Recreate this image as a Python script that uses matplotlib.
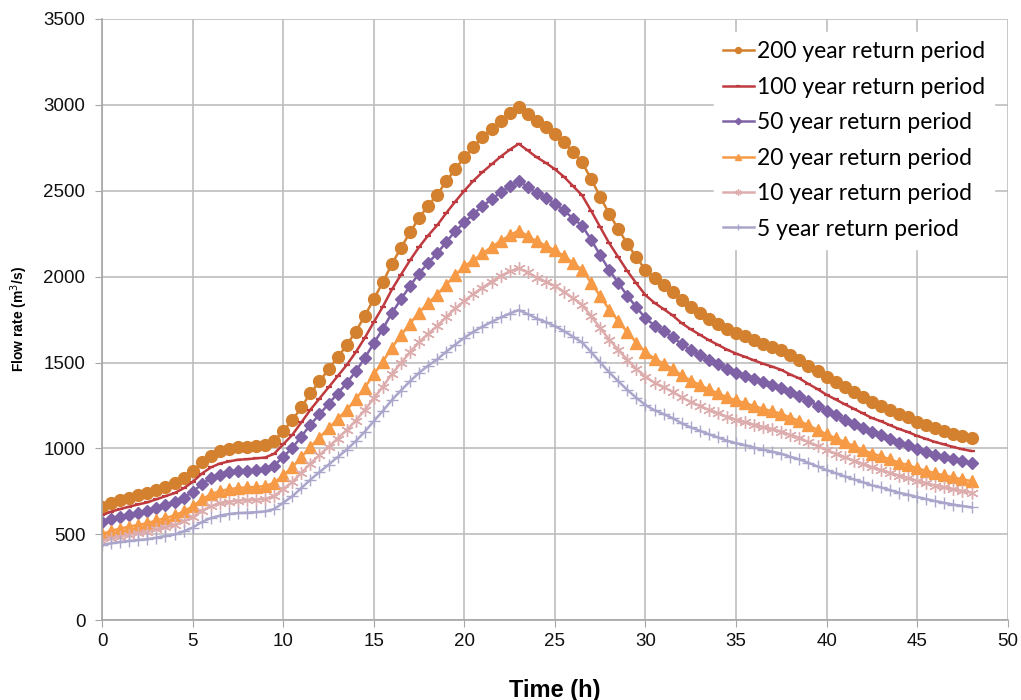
import numpy as np
import matplotlib
matplotlib.use("Agg")
import matplotlib.pyplot as plt

# Hydrographs for each return period, one value every half hour from 0 h to 48 h
time_h = np.arange(0, 48.5, 0.5)

q_200 = [658, 681, 697, 712, 726, 739, 759, 778, 797, 828,
         867, 919, 958, 983, 996, 1006, 1010, 1015, 1021, 1044,
         1103, 1163, 1240, 1320, 1390, 1460, 1530, 1600, 1680, 1770,
         1870, 1967, 2074, 2167, 2258, 2341, 2413, 2477, 2554, 2626,
         2694, 2756, 2810, 2859, 2907, 2950, 2988, 2946, 2903, 2868,
         2829, 2781, 2723, 2665, 2568, 2465, 2364, 2277, 2190, 2112,
         2039, 1990, 1951, 1912, 1863, 1824, 1791, 1756, 1727, 1697,
         1672, 1652, 1629, 1609, 1590, 1570, 1541, 1516, 1482, 1449,
         1414, 1385, 1355, 1326, 1297, 1268, 1248, 1223, 1199, 1180,
         1156, 1137, 1117, 1102, 1086, 1072, 1059]

q_100 = [611, 632, 647, 661, 674, 686, 704, 722, 740, 768,
         805, 853, 889, 912, 924, 934, 937, 942, 947, 969,
         1024, 1079, 1151, 1225, 1290, 1355, 1420, 1485, 1559, 1643,
         1735, 1825, 1925, 2011, 2095, 2172, 2239, 2299, 2370, 2437,
         2500, 2558, 2608, 2653, 2698, 2738, 2773, 2734, 2694, 2662,
         2625, 2581, 2527, 2473, 2383, 2288, 2194, 2113, 2032, 1960,
         1892, 1847, 1811, 1774, 1729, 1693, 1662, 1630, 1603, 1575,
         1552, 1533, 1512, 1493, 1476, 1457, 1430, 1407, 1375, 1345,
         1312, 1285, 1257, 1231, 1204, 1177, 1158, 1135, 1113, 1095,
         1073, 1055, 1037, 1023, 1008, 995, 985]

q_50 = [571, 587, 601, 614, 626, 637, 654, 671, 687, 714,
        747, 792, 826, 847, 862, 867, 871, 875, 880, 900,
        951, 1003, 1069, 1138, 1198, 1259, 1319, 1379, 1448, 1526,
        1612, 1696, 1788, 1868, 1946, 2018, 2080, 2135, 2202, 2264,
        2315, 2365, 2410, 2450, 2490, 2525, 2558, 2522, 2486, 2456,
        2424, 2385, 2338, 2297, 2214, 2125, 2038, 1963, 1888, 1821,
        1758, 1715, 1682, 1648, 1606, 1572, 1544, 1514, 1489, 1463,
        1441, 1424, 1404, 1387, 1371, 1353, 1328, 1307, 1277, 1249,
        1219, 1194, 1168, 1143, 1118, 1093, 1076, 1054, 1034, 1017,
        996, 980, 963, 950, 936, 924, 913]

q_20 = [500, 521, 533, 545, 555, 565, 581, 595, 610, 633,
        663, 703, 733, 752, 762, 770, 773, 776, 781, 799,
        844, 890, 949, 1010, 1063, 1117, 1170, 1224, 1285, 1354,
        1431, 1505, 1587, 1658, 1727, 1791, 1846, 1895, 1954, 2009,
        2061, 2095, 2135, 2172, 2207, 2240, 2268, 2236, 2205, 2180,
        2152, 2120, 2080, 2039, 1965, 1886, 1808, 1742, 1675, 1616,
        1560, 1522, 1493, 1463, 1425, 1395, 1370, 1343, 1321, 1298,
        1279, 1264, 1246, 1231, 1216, 1201, 1179, 1160, 1134, 1108,
        1082, 1060, 1037, 1014, 992, 970, 955, 936, 917, 903,
        884, 870, 855, 843, 831, 820, 810]

q_10 = [463, 476, 487, 497, 506, 515, 528, 541, 554, 575,
        601, 637, 663, 680, 689, 696, 699, 702, 706, 722,
        763, 804, 857, 912, 961, 1009, 1057, 1106, 1161, 1223,
        1292, 1359, 1433, 1497, 1560, 1618, 1667, 1712, 1765, 1815,
        1858, 1899, 1936, 1970, 2003, 2030, 2048, 2024, 1994, 1971,
        1945, 1912, 1874, 1836, 1770, 1701, 1633, 1574, 1515, 1462,
        1418, 1382, 1356, 1330, 1297, 1270, 1248, 1224, 1205, 1184,
        1167, 1153, 1138, 1124, 1111, 1098, 1078, 1061, 1037, 1014,
        990, 970, 949, 929, 909, 889, 875, 858, 842, 828,
        811, 798, 784, 773, 762, 752, 742]

q_5 = [436, 448, 455, 461, 467, 471, 481, 490, 499, 517,
       539, 571, 594, 609, 618, 624, 626, 629, 633, 647,
       684, 721, 769, 818, 862, 905, 949, 992, 1042, 1097,
       1159, 1218, 1282, 1337, 1391, 1440, 1482, 1518, 1563, 1604,
       1644, 1679, 1709, 1736, 1762, 1785, 1805, 1782, 1756, 1735,
       1712, 1683, 1650, 1617, 1561, 1501, 1442, 1391, 1340, 1294,
       1252, 1222, 1200, 1176, 1146, 1122, 1103, 1082, 1064, 1045,
       1030, 1019, 1005, 993, 981, 969, 951, 936, 916, 895,
       874, 856, 837, 820, 803, 785, 773, 757, 742, 731,
       717, 705, 693, 683, 673, 665, 657]

labels = ["200 year return period", "100 year return period", "50 year return period",
          "20 year return period", "10 year return period", "5 year return period"]

plt.rcParams["font.family"] = ["Liberation Sans", "DejaVu Sans"]

fig = plt.figure(figsize=(10.21, 7.0), dpi=100)
ax = fig.add_axes([0.1, 0.114, 0.887, 0.859])

ax.plot(time_h, q_200, color="#D4812F", lw=1.8, marker="o", ms=8.5, mec="#D4812F", label=labels[0])
ax.plot(time_h, q_100, color="#BE3A3E", lw=1.8, marker="_", ms=5, mew=1.6, label=labels[1])
ax.plot(time_h, q_50, color="#7F62A6", lw=1.8, marker="D", ms=6.5, label=labels[2])
ax.plot(time_h, q_20, color="#F79A45", lw=1.8, marker="^", ms=9, label=labels[3])
ax.plot(time_h, q_10, color="#DDADAE", lw=1.8, marker=(6, 2, 0), ms=9, mew=1.0, label=labels[4])
ax.plot(time_h, q_5, color="#A9A5CB", lw=1.8, marker="+", ms=8, mew=1.0, label=labels[5])

ax.set_xlim(0, 50)
ax.set_ylim(0, 3500)
ax.set_xticks(np.arange(0, 51, 5))
ax.set_yticks(np.arange(0, 3501, 500))
ax.grid(True, color="#BDBDBD", lw=1.2)
ax.set_axisbelow(True)
for side in ["top", "right"]:
    ax.spines[side].set_visible(False)
for side in ["left", "bottom"]:
    ax.spines[side].set_color("#A6A6A6")
    ax.spines[side].set_linewidth(1.2)
ax.tick_params(axis="both", direction="out", length=5, color="#A6A6A6", labelsize=13.5, labelcolor="#111111")
ax.tick_params(axis="y", pad=7)
ax.tick_params(axis="x", pad=4)

ax.set_ylabel("Flow rate (m$^3$/s)", fontsize=10, fontweight="bold", labelpad=10)
ax.set_xlabel("Time (h)", fontsize=17, fontweight="bold", labelpad=21)

leg = ax.legend(loc="upper right", bbox_to_anchor=(0.998, 0.997), frameon=True, fancybox=False,
                prop={"family": "Lato", "size": 16.5}, handlelength=1.35, handletextpad=0.15,
                labelspacing=0.63, borderpad=0.4, markerscale=0.5)
leg.get_frame().set_edgecolor("white")
leg.get_frame().set_facecolor("white")
leg.get_frame().set_alpha(1.0)

fig.savefig("out.png", dpi=100)
